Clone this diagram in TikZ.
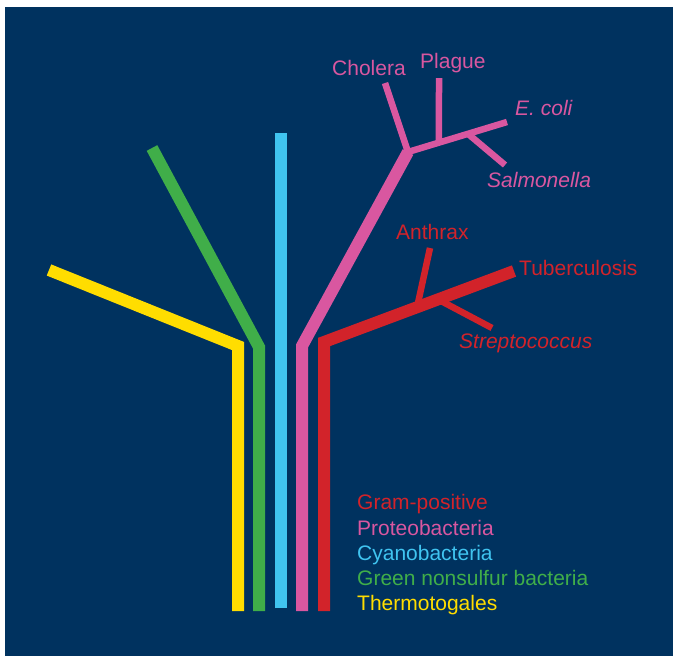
\documentclass[tikz,border=0pt]{standalone}
\usepackage{fontspec}
\setmainfont{Liberation Sans}
\usepackage{xcolor}
\usepackage{tikz}
\usetikzlibrary{calc}
\definecolor{bgnavy}{RGB}{0,50,95}
\definecolor{thermo}{RGB}{255,221,0}
\definecolor{greenns}{RGB}{64,174,73}
\definecolor{cyano}{RGB}{64,196,240}
\definecolor{proteo}{RGB}{217,87,160}
\definecolor{grampos}{RGB}{210,35,42}

\begin{document}
\begin{tikzpicture}[x=1pt, y=-1pt, every node/.style={font=\fontsize{21}{25}\selectfont, inner sep=0pt, anchor=base west}, trunk/.style={line width=12pt, line join=miter, line cap=butt}, twig/.style={line width=6.5pt, line cap=butt}]
\useasboundingbox (0,0) rectangle (673,656);
\fill[bgnavy] (5,7) rectangle (673,656);
% tree points
\coordinate (tBase) at (238,611); \coordinate (tBend) at (238,346); \coordinate (tTip) at (49,270);
\coordinate (gBase) at (259,611); \coordinate (gBend) at (259,347); \coordinate (gTip) at (152,148);
\coordinate (cBase) at (281,608); \coordinate (cTip) at (281,133);
\coordinate (pBase) at (302,611); \coordinate (pBend) at (302,346); \coordinate (pFork) at (408,152);
\coordinate (pCholera) at (385,83); \coordinate (pEcoli) at (507,122); \coordinate (pPlague) at (439,78); \coordinate (pSalm) at (505,165);
\coordinate (pPlagueFoot) at ($(pFork)!0.313!(pEcoli)$); \coordinate (pSalmFoot) at ($(pFork)!0.606!(pEcoli)$);
\coordinate (rBase) at (324,611); \coordinate (rBend) at (324,342); \coordinate (rTip) at (514,271);
\coordinate (rAnthraxFoot) at ($(rBend)!0.49!(rTip)$); \coordinate (rAnthrax) at (430,248);
\coordinate (rStrepFoot) at ($(rBend)!0.6!(rTip)$); \coordinate (rStrep) at (492,328);
% branches
\draw[trunk, thermo] (tBase) -- (tBend) -- (tTip);
\draw[trunk, greenns] (gBase) -- (gBend) -- (gTip);
\draw[trunk, cyano] (cBase) -- (cTip);
\draw[twig, proteo] (pFork) -- (pCholera); \draw[twig, proteo] (pFork) -- (pEcoli); \draw[twig, proteo] (pPlagueFoot) -- (pPlague); \draw[twig, proteo] (pSalmFoot) -- (pSalm);
\draw[trunk, proteo] (pBase) -- (pBend) -- (pFork);
\draw[twig, grampos] (rAnthraxFoot) -- (rAnthrax); \draw[twig, grampos] (rStrepFoot) -- (rStrep);
\draw[trunk, grampos] (rBase) -- (rBend) -- (rTip);
% labels
\node[text=proteo] (cholera) at (332,75) {Cholera};
\node[text=proteo] (plague) at (420,68) {Plague};
\node[text=proteo] (ecoli) at (515,115) {\itshape E. coli};
\node[text=proteo] (salmonella) at (487,187) {\itshape Salmonella};
\node[text=grampos] (anthrax) at (396,239) {Anthrax};
\node[text=grampos] (tuberculosis) at (519,275) {Tuberculosis};
\node[text=grampos] (strep) at (459,348) {\itshape Streptococcus};
% legend
\node[text=grampos] (lgGram) at (357,509) {Gram-positive};
\node[text=proteo] (lgProteo) at (357,535) {Proteobacteria};
\node[text=cyano] (lgCyano) at (357,560) {Cyanobacteria};
\node[text=greenns] (lgGreen) at (357,585) {Green nonsulfur bacteria};
\node[text=thermo] (lgThermo) at (357,610) {Thermotogales};
\end{tikzpicture}
\end{document}
